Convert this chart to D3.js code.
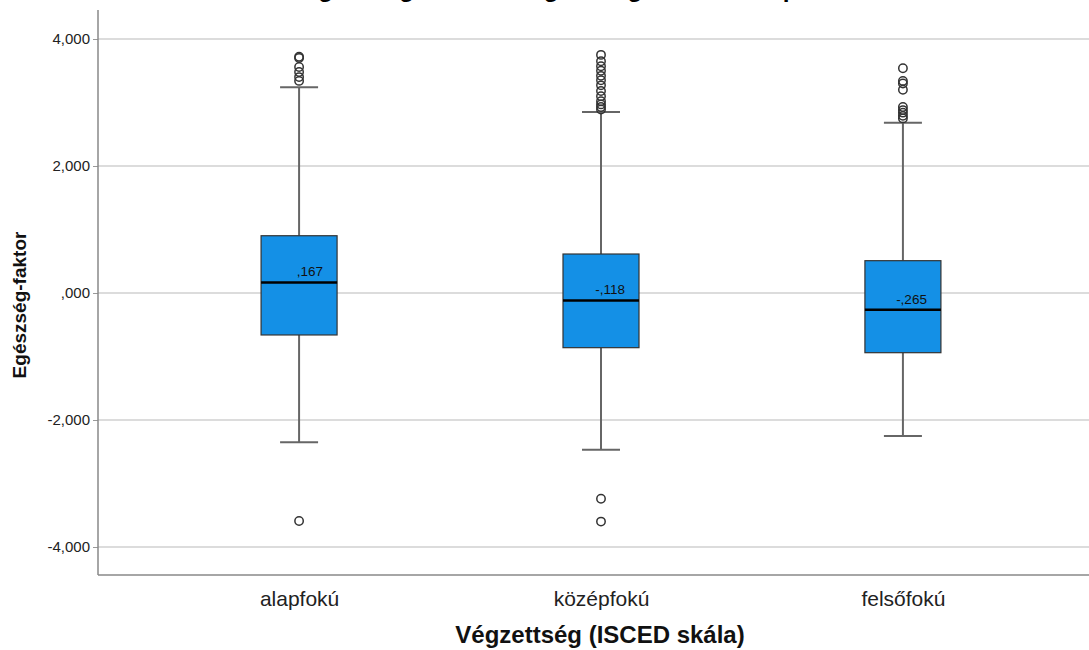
<!DOCTYPE html>
<html><head><meta charset="utf-8">
<script src="https://cdn.jsdelivr.net/npm/d3@7"></script>
<style>body{margin:0;background:#fff;} svg{display:block;font-family:"Liberation Sans",Arial,sans-serif;}</style>
</head><body>
<svg id="c" width="1089" height="650"></svg>
<script>
const categories = ["alapfokú", "középfokú", "felsőfokú"];
const q1 = [-0.661, -0.861, -0.940];
const medians = [0.167, -0.118, -0.265];
const q3 = [0.902, 0.614, 0.509];
const whiskLow = [-2.35, -2.47, -2.25];
const whiskHigh = [3.24, 2.85, 2.68];
const outliers = [
  [3.72, 3.70, 3.56, 3.48, 3.40, 3.34, -3.59],
  [3.75, 3.65, 3.57, 3.50, 3.42, 3.35, 3.27, 3.18, 3.10, 3.02, 2.97, 2.93, 2.89, -3.24, -3.60],
  [3.54, 3.34, 3.30, 3.20, 2.93, 2.88, 2.84, 2.79, 2.75]
];
const medianLabels = [",167", "-,118", "-,265"];
const yTicks = [-4, -2, 0, 2, 4];
const yTickLabels = ["-4,000", "-2,000", ",000", "2,000", "4,000"];
const chartTitle = "Egészség-faktor a végzettség szerinti csoportokban";
const xTitle = "Végzettség (ISCED skála)";
const yTitle = "Egészség-faktor";

(function () {
const svg = d3.select("#c");
const pLeft = 98, pBottom = 575, pTop = 10, pRight = 1089;
const y = d3.scaleLinear().domain([-4, 4]).range([547, 39]);
const x = d3.scalePoint().domain(categories).range([98, 1104]).padding(0.666);
const boxW = 76, capW = 38;
const FONT = "Liberation Sans, Arial, sans-serif";

// chart title (cut off by the top edge in the original)
svg.append("text").attr("x", 302).attr("y", -3).attr("font-size", 24.3).attr("font-weight", "bold").attr("fill", "#000").text(chartTitle);

// grid
svg.append("g").selectAll("line").data(yTicks).join("line")
  .attr("x1", pLeft).attr("x2", pRight).attr("y1", d => y(d)).attr("y2", d => y(d))
  .attr("stroke", "#d0d0d0").attr("stroke-width", 1.5);

// axes
const yAxis = d3.axisLeft(y).tickValues(yTicks).tickFormat((d, i) => yTickLabels[i]).tickSize(5).tickPadding(3);
const gy = svg.append("g").attr("transform", `translate(${pLeft},0)`).call(yAxis);
gy.select(".domain").remove();
gy.selectAll(".tick line").attr("stroke", "#999");
gy.selectAll("text").attr("font-size", 15).attr("fill", "#222").attr("font-family", FONT);
svg.append("line").attr("x1", pLeft).attr("x2", pLeft).attr("y1", pTop).attr("y2", pBottom).attr("stroke", "#888").attr("stroke-width", 1.5);
svg.append("line").attr("x1", pLeft).attr("x2", pRight).attr("y1", pBottom).attr("y2", pBottom).attr("stroke", "#888").attr("stroke-width", 1.5);

const xAxis = d3.axisBottom(x).tickSize(0).tickPadding(16);
const gx = svg.append("g").attr("transform", `translate(0,${pBottom})`).call(xAxis);
gx.select(".domain").remove();
gx.selectAll("text").attr("font-size", 21).attr("fill", "#222").attr("font-family", FONT);

// boxes
const g = svg.append("g");
categories.forEach((c, i) => {
  const cx = x(c);
  g.append("line").attr("x1", cx).attr("x2", cx).attr("y1", y(q3[i])).attr("y2", y(whiskHigh[i])).attr("stroke", "#666").attr("stroke-width", 2);
  g.append("line").attr("x1", cx).attr("x2", cx).attr("y1", y(q1[i])).attr("y2", y(whiskLow[i])).attr("stroke", "#666").attr("stroke-width", 2);
  g.append("line").attr("x1", cx - capW / 2).attr("x2", cx + capW / 2).attr("y1", y(whiskHigh[i])).attr("y2", y(whiskHigh[i])).attr("stroke", "#666").attr("stroke-width", 2);
  g.append("line").attr("x1", cx - capW / 2).attr("x2", cx + capW / 2).attr("y1", y(whiskLow[i])).attr("y2", y(whiskLow[i])).attr("stroke", "#666").attr("stroke-width", 2);
  g.append("rect").attr("x", cx - boxW / 2).attr("width", boxW).attr("y", y(q3[i])).attr("height", y(q1[i]) - y(q3[i]))
    .attr("fill", "#1490e6").attr("stroke", "#333").attr("stroke-width", 1.2);
  g.append("line").attr("x1", cx - boxW / 2).attr("x2", cx + boxW / 2).attr("y1", y(medians[i])).attr("y2", y(medians[i])).attr("stroke", "#000").attr("stroke-width", 2.5);
  g.append("text").attr("x", cx + 24).attr("y", y(medians[i]) - 6).attr("text-anchor", "end").attr("font-size", 13.5).attr("fill", "#111").text(medianLabels[i]);
  g.selectAll(null).data(outliers[i]).join("circle").attr("cx", cx).attr("cy", d => y(d)).attr("r", 4.2)
    .attr("fill", "none").attr("stroke", "#333").attr("stroke-width", 1.5);
});

// axis titles
svg.append("text").attr("x", 600).attr("y", 643).attr("text-anchor", "middle").attr("font-size", 24).attr("font-weight", "bold").attr("fill", "#111").text(xTitle);
svg.append("text").attr("transform", "translate(26,305) rotate(-90)").attr("text-anchor", "middle").attr("font-size", 19).attr("font-weight", "bold").attr("fill", "#111").text(yTitle);
})();
</script>
</body></html>
